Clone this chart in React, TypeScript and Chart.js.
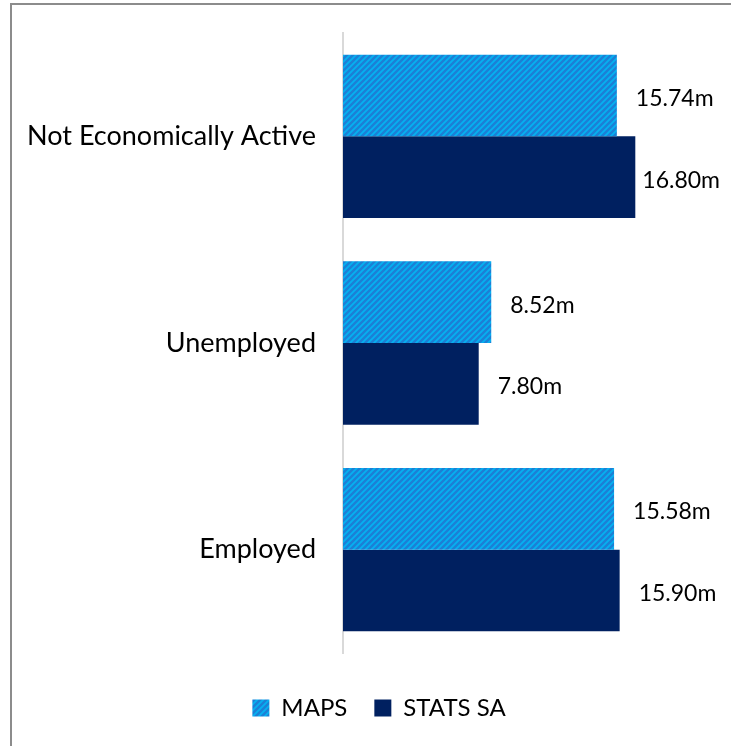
import React, { useEffect, useRef } from 'react';
import { Chart, registerables } from 'chart.js';

Chart.register(...registerables);

const categories = ['Not Economically Active', 'Unemployed', 'Employed'];
const seriesNames = ['MAPS', 'STATS SA'];
const mapsValues = [15.74, 8.52, 15.58];
const statsValues = [16.8, 7.8, 15.9];

const FONT = 'Lato, "Liberation Sans", sans-serif';
const W = 731;
const H = 746;

function makeHatch(): CanvasPattern | string {
  const c = document.createElement('canvas');
  const s = 6;
  c.width = s;
  c.height = s;
  const ctx = c.getContext('2d');
  if (!ctx) return '#00B0F0';
  ctx.fillStyle = '#06B0F0';
  ctx.fillRect(0, 0, s, s);
  ctx.strokeStyle = '#1B80D6';
  ctx.lineWidth = 2.4;
  ctx.beginPath();
  ctx.moveTo(-1, s + 1);
  ctx.lineTo(s + 1, -1);
  ctx.moveTo(-1, 1);
  ctx.lineTo(1, -1);
  ctx.moveTo(s - 1, s + 1);
  ctx.lineTo(s + 1, s - 1);
  ctx.stroke();
  return ctx.createPattern(c, 'repeat') || '#00B0F0';
}

const valueLabels = {
  id: 'valueLabels',
  afterDatasetsDraw(chart: any) {
    const ctx = chart.ctx;
    ctx.save();
    ctx.font = `23px ${FONT}`;
    ctx.fillStyle = '#000000';
    ctx.textAlign = 'left';
    ctx.textBaseline = 'middle';
    chart.data.datasets.forEach((ds: any, di: number) => {
      const meta = chart.getDatasetMeta(di);
      meta.data.forEach((bar: any, i: number) => {
        const text = Number(ds.data[i]).toFixed(2) + 'm';
        const tw = ctx.measureText(text).width;
        const x = Math.min(bar.x + 19, chart.width - tw - 11);
        ctx.fillText(text, x, bar.y + 3);
      });
    });
    ctx.restore();
  },
};

export default function App() {
  const ref = useRef<HTMLCanvasElement | null>(null);

  useEffect(() => {
    document.body.style.margin = '0';
    const canvas = ref.current;
    if (!canvas) return;
    const hatch = makeHatch();
    const chart = new Chart(canvas, {
      type: 'bar',
      data: {
        labels: categories,
        datasets: [
          {
            label: seriesNames[0],
            data: mapsValues,
            backgroundColor: hatch as any,
            borderWidth: 0,
            categoryPercentage: 0.79,
            barPercentage: 1.0,
          },
          {
            label: seriesNames[1],
            data: statsValues,
            backgroundColor: '#002060',
            borderWidth: 0,
            categoryPercentage: 0.79,
            barPercentage: 1.0,
          },
        ],
      },
      options: {
        indexAxis: 'y',
        responsive: false,
        animation: false,
        layout: { padding: { top: 33, right: 0, bottom: 16, left: 27 } },
        scales: {
          x: {
            min: 0,
            max: 22.3,
            display: true,
            grid: { display: false, drawTicks: false },
            border: { display: false },
            ticks: { display: false },
            afterFit: (scale: any) => {
              scale.height = 16;
              scale.paddingLeft = 0;
              scale.paddingRight = 0;
            },
          },
          y: {
            grid: { display: false, drawTicks: false },
            border: { display: true, color: '#d9d9d9', width: 2 },
            ticks: {
              color: '#000000',
              padding: 27,
              font: { family: FONT, size: 27 },
            },
            afterFit: (scale: any) => {
              scale.width = 316;
              scale.paddingTop = 0;
              scale.paddingBottom = 0;
            },
          },
        },
        plugins: {
          legend: {
            position: 'bottom',
            labels: {
              boxWidth: 17,
              boxHeight: 17,
              padding: 27,
              color: '#000000',
              font: { family: FONT, size: 24 },
            },
          },
          tooltip: { enabled: false },
        },
      },
      plugins: [valueLabels],
    });
    return () => chart.destroy();
  }, []);

  return (
    <div style={{ position: 'fixed', left: 0, top: 0, width: W, height: H, overflow: 'hidden', background: '#fff' }}>
      <canvas ref={ref} width={W} height={H} style={{ position: 'absolute', left: 0, top: 0 }} />
      <div
        style={{
          position: 'absolute',
          left: 10,
          top: 3,
          width: 900,
          height: 900,
          border: '2px solid #8c8c8c',
          pointerEvents: 'none',
        }}
      />
    </div>
  );
}
